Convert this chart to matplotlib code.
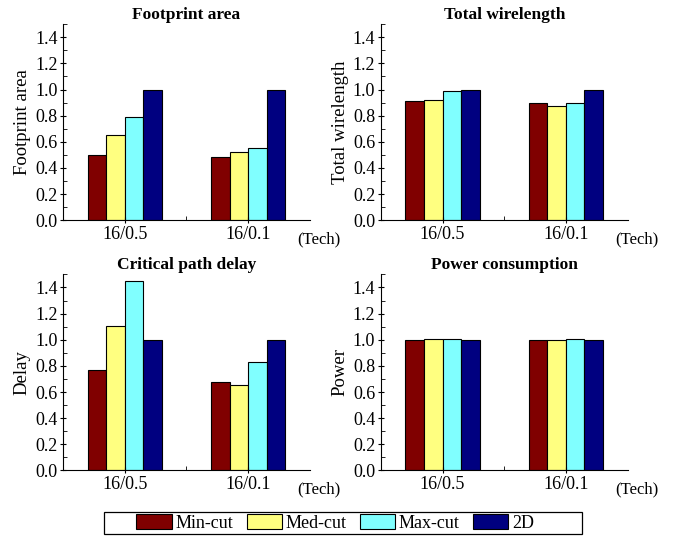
import numpy as np
import matplotlib
matplotlib.use("Agg")
import matplotlib.pyplot as plt
from matplotlib.patches import Rectangle
from matplotlib.ticker import MultipleLocator, FixedLocator

plt.rcParams['font.family'] = ['Liberation Serif', 'DejaVu Serif']

techs = ['16/0.5', '16/0.1']
series = ['Min-cut', 'Med-cut', 'Max-cut', '2D']
colors = ['#800000', '#FFFF80', '#80FFFF', '#000080']

footprint = [[0.50, 0.48], [0.65, 0.52], [0.79, 0.55], [1.00, 1.00]]
wirelength = [[0.915, 0.90], [0.92, 0.872], [0.99, 0.895], [1.00, 1.00]]
delay = [[0.77, 0.68], [1.105, 0.655], [1.45, 0.83], [1.00, 1.00]]
power = [[1.00, 1.00], [1.005, 1.00], [1.003, 1.004], [1.00, 1.00]]

panels = [
    ('Footprint area', 'Footprint area', footprint),
    ('Total wirelength', 'Total wirelength', wirelength),
    ('Critical path delay', 'Delay', delay),
    ('Power consumption', 'Power', power),
]

fig = plt.figure(figsize=(6.8, 5.37), dpi=100)
rects = [
    [0.0926, 0.590, 0.363, 0.365],
    [0.560, 0.590, 0.363, 0.365],
    [0.0926, 0.124, 0.363, 0.365],
    [0.560, 0.124, 0.363, 0.365],
]

x = np.arange(1, len(techs) + 1)
w = 0.15
handles = []
for (title, ylabel, data), r in zip(panels, rects):
    ax = fig.add_axes(r)
    handles = []
    for i, vals in enumerate(data):
        b = ax.bar(x + (i - 1.5) * w, vals, w, color=colors[i],
                   edgecolor='black', linewidth=0.8, label=series[i])
        handles.append(b)
    ax.set_xlim(0.5, 2.5)
    ax.set_ylim(0, 1.5)
    ax.spines['top'].set_visible(False)
    ax.spines['right'].set_visible(False)
    ax.yaxis.set_major_locator(FixedLocator([0, 0.2, 0.4, 0.6, 0.8, 1.0, 1.2, 1.4]))
    ax.yaxis.set_minor_locator(MultipleLocator(0.1))
    ax.set_yticklabels(['0.0', '0.2', '0.4', '0.6', '0.8', '1.0', '1.2', '1.4'])
    ax.set_xticks(x)
    ax.set_xticklabels(techs)
    ax.xaxis.set_minor_locator(FixedLocator([1.5]))
    ax.tick_params(axis='both', which='major', direction='inout', length=5,
                   labelsize=13, pad=1.5)
    ax.tick_params(axis='both', which='minor', direction='in', length=3)
    ax.set_ylabel(ylabel, fontsize=13.5, labelpad=3)
    ax.set_title(title, fontsize=12.5, fontweight='bold', pad=4)
    ax.text(0.95, -0.055, '(Tech)', transform=ax.transAxes, fontsize=12,
            ha='left', va='top')

# legend box
fig.patches.append(Rectangle((0.153, 0.0056), 0.703, 0.041, transform=fig.transFigure,
                             facecolor='white', edgecolor='black', linewidth=0.9,
                             zorder=0))
leg = fig.legend(handles, series, loc='center', bbox_to_anchor=(0.493, 0.026),
                 ncol=4, fontsize=13, frameon=False,
                 handlelength=1.95, handleheight=0.9,
                 columnspacing=0.75, borderpad=0.1, handletextpad=0.2)

fig.savefig('out.png', dpi=100)
